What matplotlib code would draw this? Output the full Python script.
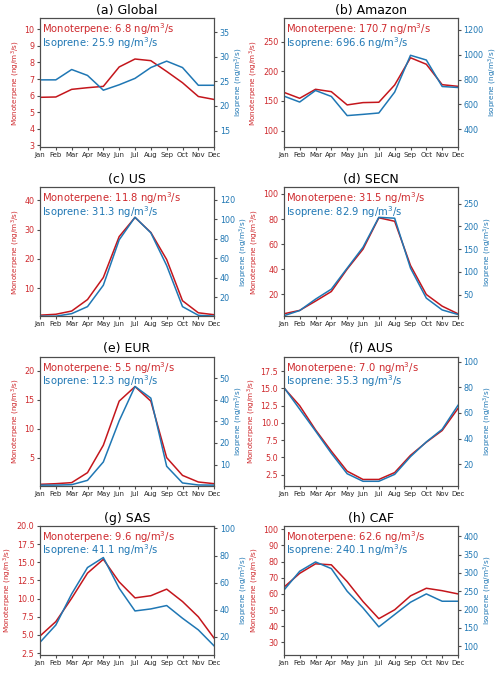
import numpy as np
import matplotlib
matplotlib.use("Agg")
import matplotlib.pyplot as plt
from matplotlib.ticker import MultipleLocator

months = ["Jan", "Feb", "Mar", "Apr", "May", "Jun",
          "Jul", "Aug", "Sep", "Oct", "Nov", "Dec"]

titles = ["(a) Global", "(b) Amazon", "(c) US", "(d) SECN",
          "(e) EUR", "(f) AUS", "(g) SAS", "(h) CAF"]
mono_mean = [6.8, 170.7, 11.8, 31.5, 5.5, 7.0, 9.6, 62.6]
iso_mean = [25.9, 696.6, 31.3, 82.9, 12.3, 35.3, 41.1, 240.1]

# monthly emissions (ng/m3/s)
mono_global = [5.90, 5.92, 6.38, 6.48, 6.56, 7.73, 8.21, 8.11, 7.46, 6.78, 5.95, 5.77]
iso_global = [25.3, 25.3, 27.4, 26.2, 23.2, 24.3, 25.6, 27.8, 29.1, 27.8, 24.2, 24.2]
mono_amazon = [164.6, 154.5, 169.7, 165.7, 143.3, 147.2, 147.8, 177.0, 223.0, 212.0, 177.5, 174.7]
iso_amazon = [667, 619, 712, 664, 510, 520, 531, 699, 995, 957, 744, 736]
mono_us = [0.9, 1.2, 2.3, 6.2, 13.7, 27.6, 34.1, 29.0, 19.8, 5.8, 1.7, 1.05]
iso_us = [0.6, 0.6, 3.2, 10.4, 32.3, 78.8, 102.0, 86.0, 52.5, 10.4, 1.5, 0.7]
mono_secn = [4.3, 7.0, 14.4, 22.1, 40.0, 55.9, 81.0, 78.2, 42.9, 19.7, 10.4, 4.3]
iso_secn = [3.2, 14.7, 39.7, 61.8, 108.0, 154.0, 220.0, 218.0, 108.0, 42.0, 16.0, 6.0]
mono_eur = [0.46, 0.57, 0.75, 2.47, 7.2, 14.8, 17.3, 14.8, 5.06, 2.0, 0.86, 0.57]
iso_eur = [0.5, 0.5, 0.7, 2.7, 11.2, 30.2, 46.1, 40.7, 9.2, 1.5, 0.56, 0.5]
mono_aus = [15.1, 12.5, 9.0, 5.9, 3.0, 1.8, 1.8, 2.8, 5.3, 7.2, 8.9, 12.1]
iso_aus = [80.0, 63.0, 46.0, 28.6, 12.7, 6.8, 6.8, 12.2, 26.0, 37.5, 47.3, 66.0]
mono_sas = [4.86, 6.84, 10.05, 13.5, 15.4, 12.3, 10.1, 10.4, 11.3, 9.6, 7.5, 4.55]
iso_sas = [15.8, 28.6, 51.6, 71.1, 78.5, 55.8, 39.0, 40.5, 43.0, 33.6, 25.0, 13.1]
mono_caf = [64.1, 72.7, 78.6, 78.0, 67.6, 55.3, 44.7, 50.2, 58.8, 63.5, 62.0, 60.0]
iso_caf = [252.7, 304.5, 330.0, 311.8, 250.0, 204.5, 152.7, 186.4, 220.0, 242.7, 222.7, 222.7]

mono_all = [mono_global, mono_amazon, mono_us, mono_secn,
            mono_eur, mono_aus, mono_sas, mono_caf]
iso_all = [iso_global, iso_amazon, iso_us, iso_secn,
           iso_eur, iso_aus, iso_sas, iso_caf]

# tick spacing of the two y axes in each panel
mono_step = [1, 50, 10, 20, 5, 2.5, 2.5, 10]
iso_step = [5, 200, 20, 50, 10, 20, 20, 50]

red = "#c4161c"
red_txt = "#cf2a2e"
blue = "#1f77b4"
spine_c = "0.3"

fig, axes = plt.subplots(4, 2, figsize=(5, 6.73), dpi=100)
fig.subplots_adjust(left=0.08, right=0.916, top=0.973, bottom=0.027,
                    wspace=0.40, hspace=0.31)

x = np.arange(12)
for i, ax in enumerate(axes.flat):
    mono = np.array(mono_all[i])
    iso = np.array(iso_all[i])
    ax2 = ax.twinx()

    ax.plot(x, mono, c=red, lw=1.1)
    ax2.plot(x, iso, c=blue, lw=1.1)

    ax.set_xlim(0, 11)
    ax.set_ylim(mono.min() * 0.5, mono.max() * 1.3)
    ax2.set_ylim(iso.min() * 0.5, iso.max() * 1.3)
    ax.yaxis.set_major_locator(MultipleLocator(mono_step[i]))
    ax2.yaxis.set_major_locator(MultipleLocator(iso_step[i]))

    ax.set_xticks(x)
    ax.set_xticklabels(months, fontsize=5)
    ax.tick_params(axis="x", length=2, pad=1.5, colors=spine_c, labelcolor="0.15")
    ax.tick_params(axis="y", labelsize=5.8, length=2.5, pad=1.5,
                   colors=spine_c, labelcolor=red_txt)
    ax2.tick_params(axis="y", labelsize=5.8, length=2.5, pad=1.5,
                    colors=spine_c, labelcolor=blue)
    for a in (ax, ax2):
        for s in a.spines.values():
            s.set_color(spine_c)
            s.set_linewidth(0.8)

    ax.set_ylabel("Monoterpene (ng/m$^3$/s)", fontsize=5.2, color=red_txt, labelpad=2)
    ax2.set_ylabel("Isoprene (ng/m$^3$/s)", fontsize=5.2, color=blue, labelpad=2)
    ax.set_title(titles[i], fontsize=9, pad=3)

    ax.text(0.01, 0.975, "Monoterpene: %.1f ng/m$^3$/s" % mono_mean[i],
            transform=ax.transAxes, ha="left", va="top", fontsize=7.2, color=red_txt)
    ax.text(0.01, 0.87, "Isoprene: %.1f ng/m$^3$/s" % iso_mean[i],
            transform=ax.transAxes, ha="left", va="top", fontsize=7.2, color=blue)

plt.savefig("out.png", dpi=100)
